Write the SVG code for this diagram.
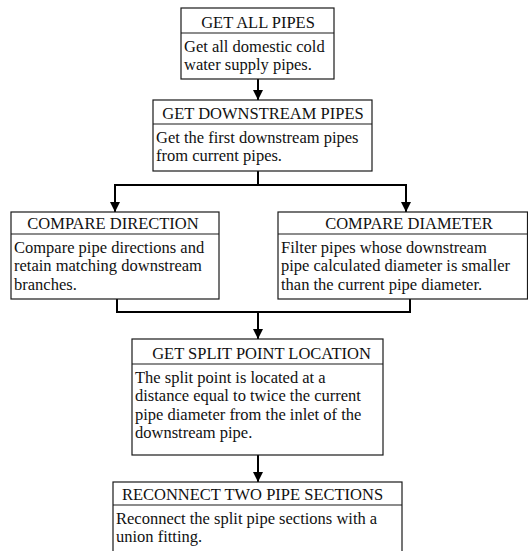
<svg xmlns="http://www.w3.org/2000/svg" width="528" height="551" viewBox="0 0 528 551">
<style>
.box{fill:#fff;stroke:#1a1a1a;stroke-width:1.2}
.div{stroke:#1a1a1a;stroke-width:1.2}
text{font-family:"Liberation Serif","Times New Roman",serif;font-size:16.5px;fill:#111}
.h{text-anchor:middle}
.c{fill:none;stroke:#000;stroke-width:2}
</style>
<defs>
<marker id="ah" viewBox="0 0 10 10" refX="10" refY="5" markerWidth="10" markerHeight="10" markerUnits="userSpaceOnUse" orient="auto">
<path d="M0,0 L10,5 L0,10 z" fill="#000"/>
</marker>
</defs>
<rect width="528" height="551" fill="#fff"/>
<g id="connectors">
<line class="c" x1="258" y1="79" x2="258" y2="100" marker-end="url(#ah)"/>
<polyline class="c" points="258,171 258,185"/>
<polyline class="c" points="115,212 115,185 406,185 406,212"/>
<line class="c" x1="115" y1="190" x2="115" y2="212" marker-end="url(#ah)"/>
<line class="c" x1="406" y1="190" x2="406" y2="212" marker-end="url(#ah)"/>
<polyline class="c" points="117,299 117,312 410,312 410,299"/>
<line class="c" x1="258" y1="312" x2="258" y2="339" marker-end="url(#ah)"/>
<line class="c" x1="258" y1="455" x2="258" y2="482" marker-end="url(#ah)"/>
</g>
<g id="n1">
<rect class="box" x="181" y="8" width="153" height="71"/>
<line class="div" x1="181" y1="33" x2="334" y2="33"/>
<text class="h" x="258" y="27.5">GET ALL PIPES</text>
<text x="184" y="51.5">Get all domestic cold</text>
<text x="184" y="70">water supply pipes.</text>
</g>
<g id="n2">
<rect class="box" x="153" y="100" width="219" height="71"/>
<line class="div" x1="153" y1="124" x2="372" y2="124"/>
<text class="h" x="263" y="118.5">GET DOWNSTREAM PIPES</text>
<text x="156" y="142.5">Get the first downstream pipes</text>
<text x="156" y="161">from current pipes.</text>
</g>
<g id="n3">
<rect class="box" x="11" y="212" width="208" height="87"/>
<line class="div" x1="11" y1="234" x2="219" y2="234"/>
<text class="h" x="113" y="228.5">COMPARE DIRECTION</text>
<text x="14" y="252.5">Compare pipe directions and</text>
<text x="14" y="271">retain matching downstream</text>
<text x="14" y="289.5">branches.</text>
</g>
<g id="n4">
<rect class="box" x="278" y="212" width="249.5" height="87"/>
<line class="div" x1="278" y1="234" x2="527.5" y2="234"/>
<text class="h" x="409" y="228.5">COMPARE DIAMETER</text>
<text x="281" y="252.5">Filter pipes whose downstream</text>
<text x="281" y="271">pipe calculated diameter is smaller</text>
<text x="281" y="289.5">than the current pipe diameter.</text>
</g>
<g id="n5">
<rect class="box" x="132" y="339" width="251" height="116"/>
<line class="div" x1="132" y1="364" x2="383" y2="364"/>
<text class="h" x="261.5" y="358.5">GET SPLIT POINT LOCATION</text>
<text x="135" y="382.5">The split point is located at a</text>
<text x="135" y="401">distance equal to twice the current</text>
<text x="135" y="419.5">pipe diameter from the inlet of the</text>
<text x="135" y="438">downstream pipe.</text>
</g>
<g id="n6">
<rect class="box" x="113" y="482" width="289" height="72"/>
<line class="div" x1="113" y1="505" x2="402" y2="505"/>
<text class="h" x="252.5" y="499.5">RECONNECT TWO PIPE SECTIONS</text>
<text x="116" y="523.5">Reconnect the split pipe sections with a</text>
<text x="116" y="542">union fitting.</text>
</g>
</svg>
